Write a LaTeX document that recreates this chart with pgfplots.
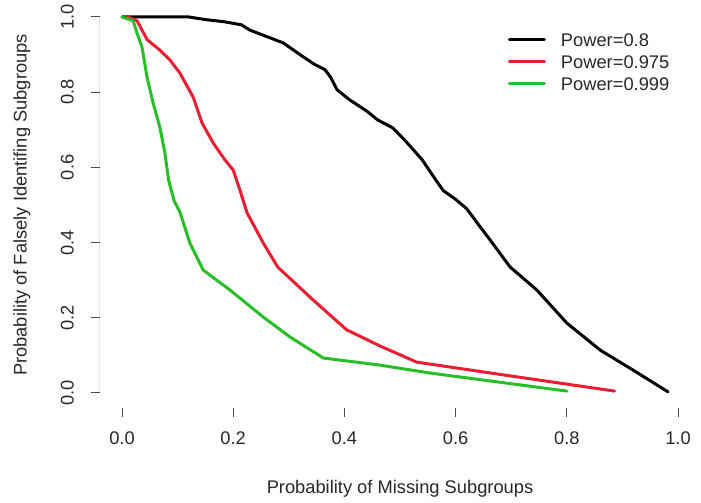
\documentclass[border=0pt]{standalone}
\usepackage{fontspec}
\setmainfont{Liberation Sans}
\usepackage{pgfplots}
\pgfplotsset{compat=1.18}
\definecolor{rred}{RGB}{232,30,50}
\definecolor{rgreen}{RGB}{40,190,40}
\definecolor{txt}{RGB}{40,40,40}
\begin{document}
\fontsize{18.3bp}{22bp}\selectfont
\begin{tikzpicture}
\path[use as bounding box] (0,0) rectangle (701bp,503bp);
\begin{axis}[
  at={(99.76bp,95bp)}, anchor=south west,
  scale only axis, width=600.48bp, height=406.08bp,
  xmin=-0.04, xmax=1.04, ymin=-0.04, ymax=1.04,
  axis line style={draw=none},
  xtick={0,0.2,0.4,0.6,0.8,1}, ytick={0,0.2,0.4,0.6,0.8,1},
  xticklabels={0.0,0.2,0.4,0.6,0.8,1.0},
  yticklabels={0.0,0.2,0.4,0.6,0.8,1.0},
  tick pos=left, tick align=outside,
  major tick length=9bp,
  tick style={line width=1bp, color=black!70},
  xticklabel style={anchor=center, text=txt},
  yticklabel style={rotate=90, anchor=center, text=txt},
  xticklabel shift=21bp,
  yticklabel shift=23.5bp,
  xlabel={Probability of Missing Subgroups},
  ylabel={Probability of Falsely Identifing Subgroups},
  every axis x label/.style={at={(axis cs:0.5,-0.2553)}, anchor=center, text=txt},
  every axis y label/.style={at={(axis cs:-0.1799,0.5)}, rotate=90, anchor=center, text=txt},
  legend style={
    at={(axis cs:0.6942,0.9563)}, anchor=north west,
    draw=none, fill=none, inner sep=0pt, outer sep=0pt,
    row sep=8.9bp,
    /tikz/every odd column/.append style={column sep=15bp},
    nodes={inner sep=0pt, text height=13.1bp, text depth=0pt, text=txt},
  },
  legend cell align=left,
  legend image code/.code={\draw[#1] (0bp,0bp) -- (35bp,0bp);},
  every axis plot/.append style={line width=3bp, line join=round, line cap=round},
]
\addplot[black] coordinates {
(0,1) (0.12,1) (0.15,0.993) (0.185,0.987) (0.215,0.979) (0.23,0.965) (0.26,0.948)
(0.29,0.931) (0.32,0.9) (0.345,0.875) (0.365,0.86) (0.375,0.84) (0.387,0.806)
(0.41,0.779) (0.44,0.75) (0.46,0.726) (0.487,0.705) (0.51,0.67) (0.54,0.62)
(0.565,0.565) (0.578,0.538) (0.6,0.515) (0.62,0.49) (0.64,0.45) (0.662,0.407)
(0.698,0.335) (0.746,0.274) (0.8,0.186) (0.86,0.114) (0.919,0.061) (0.982,0.003)
};
\addlegendentry{Power=0.8}
\addplot[rred] coordinates {
(0.01,1) (0.027,0.99) (0.045,0.94) (0.068,0.912) (0.086,0.886) (0.104,0.851)
(0.128,0.787) (0.144,0.718) (0.164,0.665) (0.185,0.62) (0.2,0.593) (0.212,0.54)
(0.225,0.479) (0.254,0.399) (0.28,0.335) (0.344,0.247) (0.404,0.168) (0.464,0.125)
(0.53,0.082) (0.7,0.045) (0.886,0.005)
};
\addlegendentry{Power=0.975}
\addplot[rgreen] coordinates {
(0,1) (0.02,0.99) (0.027,0.957) (0.036,0.92) (0.045,0.84) (0.056,0.771) (0.068,0.707)
(0.077,0.64) (0.084,0.565) (0.094,0.51) (0.104,0.482) (0.122,0.399) (0.146,0.327) (0.194,0.274)
(0.254,0.202) (0.302,0.149) (0.362,0.093) (0.464,0.074) (0.554,0.053) (0.8,0.005)
};
\addlegendentry{Power=0.999}
\draw[line width=1bp, black!70] (axis cs:0,-0.04) -- (axis cs:1,-0.04);
\draw[line width=1bp, black!70] (axis cs:-0.04,0) -- (axis cs:-0.04,1);
\end{axis}
\end{tikzpicture}
\end{document}
